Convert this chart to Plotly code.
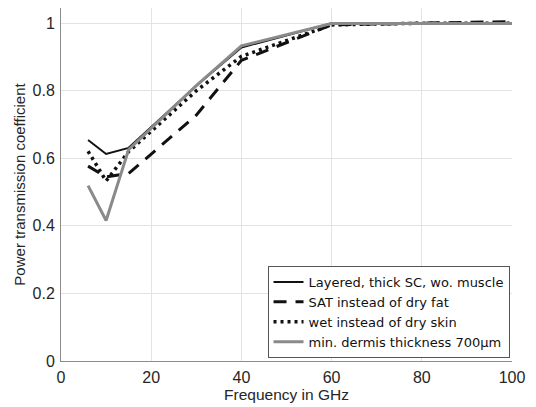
import plotly.graph_objects as go

freq = [6, 10, 15, 30, 40, 60, 80, 100]
layered = [0.654, 0.613, 0.631, 0.815, 0.928, 1.0, 1.0, 1.0]
sat = [0.577, 0.545, 0.555, 0.728, 0.89, 0.995, 1.0, 1.005]
wet = [0.621, 0.533, 0.62, 0.80, 0.902, 0.995, 1.0, 1.0]
dermis = [0.519, 0.416, 0.626, 0.815, 0.933, 0.999, 0.999, 0.999]

names = ["Layered, thick SC, wo. muscle", "SAT instead of dry fat",
         "wet instead of dry skin", "min. dermis thickness 700\u03bcm"]
x_ticks = [0, 20, 40, 60, 80, 100]
y_ticks = [0, 0.2, 0.4, 0.6, 0.8, 1]
y_tick_text = ["0", "0.2", "0.4", "0.6", "0.8", "1"]

fig = go.Figure()
fig.add_trace(go.Scatter(x=freq, y=layered, mode="lines", name=names[0],
                         line=dict(color="#111111", width=2)))
fig.add_trace(go.Scatter(x=freq, y=sat, mode="lines", name=names[1],
                         line=dict(color="#111111", width=3, dash="13px,9px")))
fig.add_trace(go.Scatter(x=freq, y=wet, mode="lines", name=names[2],
                         line=dict(color="#111111", width=3.5, dash="3px,4px")))
fig.add_trace(go.Scatter(x=freq, y=dermis, mode="lines", name=names[3],
                         line=dict(color="#8a8a8a", width=3)))

fig.update_layout(
    width=536, height=407,
    margin=dict(l=60.5, r=23.5, t=7.5, b=46),
    paper_bgcolor="white", plot_bgcolor="white",
    font=dict(family="Arial, Liberation Sans, sans-serif", size=16, color="#262626"),
    showlegend=True,
    legend=dict(x=0.9945, y=0.0085, xanchor="right", yanchor="bottom",
                bgcolor="white", bordercolor="#555555", borderwidth=1,
                font=dict(family="DejaVu Sans", size=13, color="#111111"),
                tracegroupgap=0, itemwidth=30),
    xaxis=dict(range=[0, 100], tickvals=x_ticks, showgrid=True, gridcolor="#e3e3e3",
               showline=True, linecolor="#8c8c8c", linewidth=1, zeroline=False,
               ticks="", ticklabelstandoff=2,
               title=dict(text="Frequency in GHz", standoff=2, font=dict(size=15.5))),
    yaxis=dict(range=[0, 1.045], tickvals=y_ticks, ticktext=y_tick_text,
               showgrid=True, gridcolor="#e3e3e3",
               showline=True, linecolor="#8c8c8c", linewidth=1, zeroline=False,
               ticks="", ticklabelstandoff=2,
               title=dict(text="Power transmission coefficient", standoff=3,
                          font=dict(size=15))),
)

fig.write_html("out.html")
